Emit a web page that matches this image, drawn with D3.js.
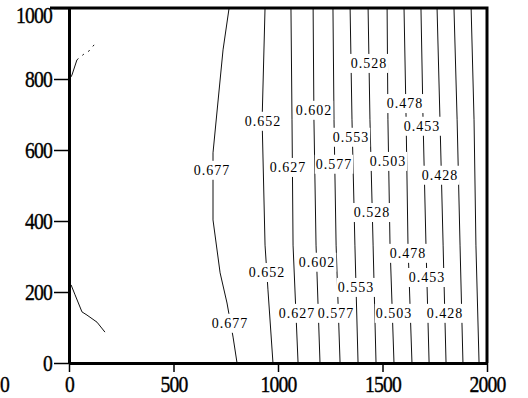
<!DOCTYPE html>
<html>
<head>
<meta charset="utf-8">
<script src="https://cdn.jsdelivr.net/npm/d3@7"></script>
<style>
  body { margin: 0; background: #fff; }
  svg { display: block; }
</style>
</head>
<body>
<svg width="528" height="398"></svg>
<script>
// contour levels, left to right
const levels = [0.677, 0.652, 0.627, 0.602, 0.577, 0.553, 0.528, 0.503, 0.478, 0.453, 0.428, 0.403, 0.378];

// one polyline per level, [x, y] in data units
const contourPaths = [
  [[766, 1000], [737, 882], [708, 707], [689, 592], [689, 403], [723, 254], [756, 169], [785, 73], [804, 0]],
  [[938, 1000], [924, 685], [938, 332], [952, 206], [976, 0]],
  [[1062, 1000], [1067, 685], [1072, 332], [1096, 0]],
  [[1168, 1000], [1172, 685], [1182, 332], [1201, 0]],
  [[1263, 1000], [1268, 685], [1278, 332], [1297, 0]],
  [[1345, 1000], [1354, 685], [1368, 332], [1383, 0]],
  [[1431, 1000], [1440, 685], [1455, 332], [1469, 0]],
  [[1522, 1000], [1526, 685], [1536, 332], [1555, 0]],
  [[1603, 1000], [1613, 685], [1622, 332], [1641, 0]],
  [[1684, 1000], [1694, 685], [1708, 332], [1723, 0]],
  [[1761, 1000], [1775, 685], [1790, 332], [1804, 0]],
  [[1842, 1000], [1857, 685], [1871, 332], [1885, 0]],
  [[1924, 1000], [1938, 685], [1947, 332], [1962, 0]]
];

// small unlabeled fragments near the left edge
const fragmentSolid = [
  [[0, 797], [14, 811], [38, 854]],
  [[10, 220], [29, 192], [62, 144], [86, 135], [134, 115], [172, 87]]
];
const fragmentDashed = [[38, 854], [77, 873], [96, 879], [124, 899]];

// contour labels: [level, x, y]
const contourLabels = [
  [0.677, 684, 544], [0.652, 928, 682], [0.602, 1172, 713], [0.627, 1048, 552],
  [0.577, 1268, 561], [0.553, 1349, 637], [0.528, 1435, 845], [0.478, 1608, 732],
  [0.453, 1689, 668], [0.503, 1526, 569], [0.428, 1775, 530],
  [0.528, 1450, 425], [0.478, 1622, 310], [0.652, 947, 256], [0.602, 1187, 285],
  [0.453, 1713, 242], [0.553, 1373, 214], [0.627, 1091, 141], [0.577, 1278, 141],
  [0.503, 1555, 141], [0.428, 1799, 141], [0.677, 770, 113]
];

const xTicks = [0, 500, 1000, 1500, 2000];
const xTickLabels = ['0', '500', '1000', '1500', '2000'];
const yTicks = [0, 200, 400, 600, 800, 1000];
const yTickLabels = ['0', '200', '400', '600', '800', '1000'];

const svg = d3.select('svg');
const margin = { top: 8, right: 41, bottom: 35, left: 69 };
const width = 528;
const height = 398;
const serif = "'Liberation Serif', 'DejaVu Serif', serif";

const x = d3.scaleLinear().domain([0, 2000]).range([margin.left, width - margin.right]);
const y = d3.scaleLinear().domain([0, 1000]).range([height - margin.bottom, margin.top]);

const line = d3.line().x((d) => x(d[0])).y((d) => y(d[1]));

// contour lines
const lines = svg.append('g')
  .attr('fill', 'none')
  .attr('stroke', '#111')
  .attr('stroke-width', 1);

lines.selectAll('path.level')
  .data(contourPaths)
  .enter()
  .append('path')
  .attr('class', 'level')
  .attr('d', line);

lines.selectAll('path.frag')
  .data(fragmentSolid)
  .enter()
  .append('path')
  .attr('class', 'frag')
  .attr('d', line);

lines.append('path')
  .datum(fragmentDashed)
  .attr('stroke-dasharray', '2,5')
  .attr('d', line);

// labels with a white box to break the line
const lbl = svg.append('g');
contourLabels.forEach(([v, lx, ly]) => {
  const g = lbl.append('g');
  const t = g.append('text')
    .attr('x', x(lx))
    .attr('y', y(ly))
    .attr('dy', '0.35em')
    .attr('text-anchor', 'middle')
    .attr('font-family', serif)
    .attr('font-size', 14)
    .attr('letter-spacing', 1)
    .attr('fill', '#000')
    .text(d3.format('.3f')(v));
  const b = t.node().getBBox();
  g.insert('rect', 'text')
    .attr('x', b.x - 1)
    .attr('y', b.y - 2)
    .attr('width', b.width + 2)
    .attr('height', b.height + 4)
    .attr('fill', '#fff');
});

// axes
const xAxis = svg.append('g')
  .attr('transform', `translate(0,${y(0)})`)
  .call(d3.axisBottom(x).tickValues(xTicks).tickFormat((d, i) => xTickLabels[i]).tickSize(9).tickSizeOuter(0).tickPadding(3));

const yAxis = svg.append('g')
  .attr('transform', `translate(${x(0)},0)`)
  .call(d3.axisLeft(y).tickValues(yTicks).tickFormat((d, i) => yTickLabels[i]).tickSize(15).tickSizeOuter(0).tickPadding(2));

[xAxis, yAxis].forEach((a) => {
  a.select('.domain').attr('stroke', '#000').attr('stroke-width', 3);
  a.selectAll('.tick line').attr('stroke', '#000').attr('stroke-width', 1.5);
  a.selectAll('.tick text')
    .attr('fill', '#000')
    .attr('stroke', '#000')
    .attr('stroke-width', 0.4)
    .attr('font-size', 24)
    .attr('letter-spacing', -1)
    .attr('font-family', serif);
});

// squeeze the tall scanned digits horizontally
xAxis.selectAll('.tick text').attr('transform', 'scale(0.82,1)');
yAxis.selectAll('.tick text')
  .attr('x', -17 / 0.82)
  .attr('transform', 'scale(0.82,1)');
// top label sits below its tick so it stays inside the picture
yAxis.selectAll('.tick text').filter((d) => d === 1000).attr('dy', '0.62em');

// frame: top and right edges
svg.append('path')
  .attr('fill', 'none')
  .attr('stroke', '#000')
  .attr('stroke-width', 3)
  .attr('d', `M${x(0) - 19},${y(1000)}H${x(2000)}V${y(0)}`);

// stray zero at far left of the x axis row
svg.append('text')
  .attr('x', 5 / 0.82)
  .attr('y', y(0) + 12)
  .attr('dy', '0.71em')
  .attr('text-anchor', 'middle')
  .attr('transform', 'scale(0.82,1)')
  .attr('font-family', serif)
  .attr('font-size', 24)
  .attr('stroke', '#000')
  .attr('stroke-width', 0.4)
  .text('0');
</script>
</body>
</html>
